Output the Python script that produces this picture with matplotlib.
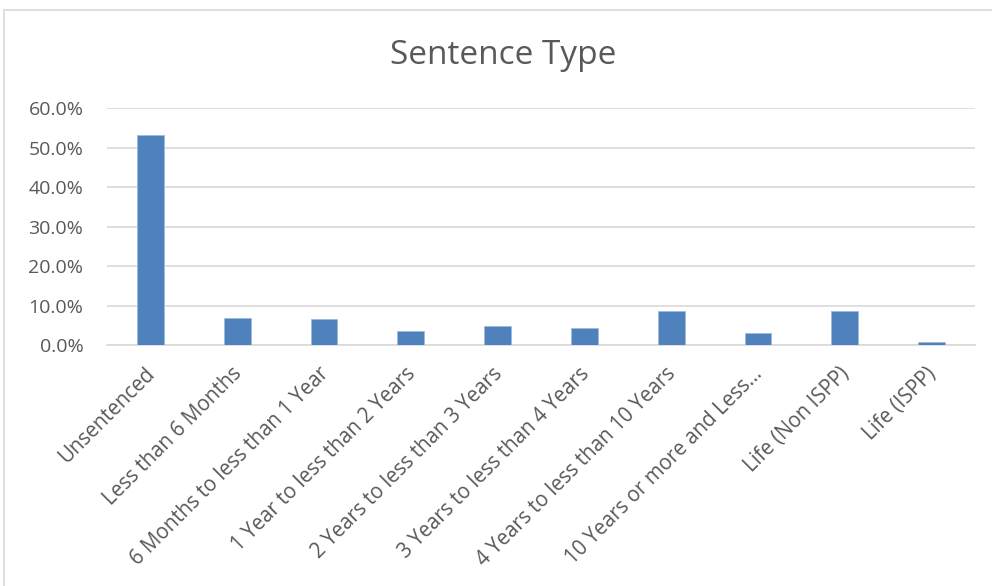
import matplotlib.pyplot as plt
from matplotlib.patches import Rectangle
from matplotlib.ticker import FuncFormatter
from matplotlib.transforms import ScaledTranslation

# Sentence type shares
categories = ["Unsentenced", "Less than 6 Months", "6 Months to less than 1 Year",
              "1 Year to less than 2 Years", "2 Years to less than 3 Years",
              "3 Years to less than 4 Years", "4 Years to less than 10 Years",
              "10 Years or more and Less...", "Life (Non ISPP)", "Life (ISPP)"]
shares = [0.532, 0.069, 0.067, 0.036, 0.050, 0.043, 0.086, 0.030, 0.086, 0.008]
yticks = [0.0, 0.1, 0.2, 0.3, 0.4, 0.5, 0.6]

plt.rcParams['font.family'] = ['Open Sans', 'DejaVu Sans']

fig = plt.figure(figsize=(9.92, 5.86), dpi=100)
fig.patches.append(Rectangle((4 / 992, -0.1), 1.2, 1 - 10 / 586 + 0.1,
                             transform=fig.transFigure, fill=False,
                             edgecolor='#d9d9d9', linewidth=1.2))

ax = fig.add_axes([107 / 992, 1 - 345.3 / 586, 868 / 992, (345.3 - 108.3) / 586])
x = range(len(categories))
ax.bar(x, shares, width=0.31, color='#4f81bd', edgecolor='#9dbbe0', linewidth=0.6, zorder=3)

ax.set_ylim(0, 0.6)
ax.set_xlim(-0.5, len(categories) - 0.5)
ax.set_yticks(yticks)
ax.yaxis.set_major_formatter(FuncFormatter(lambda v, p: f"{v * 100:.1f}%"))
ax.grid(axis='y', color='#d9d9d9', linewidth=1.2, zorder=0)
ax.set_xticks(list(x))
ax.set_xticklabels(categories, rotation=45, ha='right', rotation_mode='anchor')
ax.tick_params(axis='y', length=0, labelsize=14, labelcolor='#595959', pad=17)
ax.tick_params(axis='x', length=0, labelsize=14.8, labelcolor='#595959', pad=13)
shift = ScaledTranslation(-6 / 100, 0, fig.dpi_scale_trans)
for lab in ax.get_xticklabels():
    lab.set_transform(lab.get_transform() + shift)
for s in ['top', 'right', 'left']:
    ax.spines[s].set_visible(False)
ax.spines['bottom'].set_color('#d9d9d9')
ax.spines['bottom'].set_linewidth(1.2)

fig.text(0.507, 1 - 55 / 586, "Sentence Type", ha='center', va='center',
         fontsize=24, color='#595959')

fig.savefig("out.png", dpi=100)
